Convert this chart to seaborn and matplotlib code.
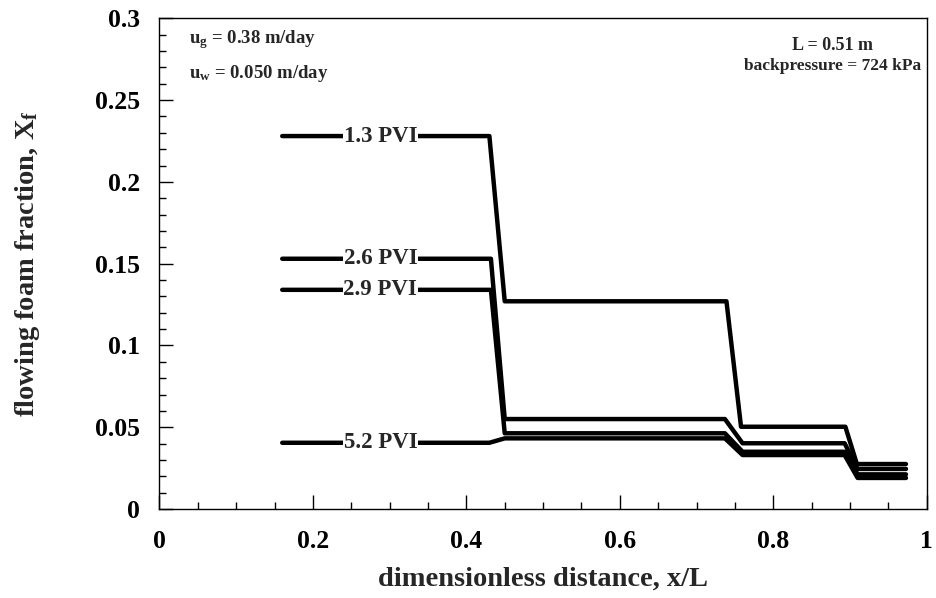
import matplotlib
matplotlib.use("Agg")
import matplotlib.pyplot as plt
from matplotlib.ticker import MultipleLocator
import numpy as np
import pandas as pd
import seaborn as sns

# Flowing foam fraction profiles along the core at several pore volumes injected
pvi_labels = ["1.3 PVI", "2.6 PVI", "2.9 PVI", "5.2 PVI"]

x_13 = [0.160, 0.430, 0.450, 0.739, 0.758, 0.894, 0.909, 0.973]
y_13 = [0.228, 0.228, 0.127, 0.127, 0.0503, 0.0503, 0.0275, 0.0275]

x_26 = [0.160, 0.432, 0.450, 0.737, 0.760, 0.893, 0.910, 0.973]
y_26 = [0.153, 0.153, 0.055, 0.055, 0.0402, 0.0402, 0.0245, 0.0245]

x_29 = [0.160, 0.432, 0.450, 0.737, 0.760, 0.893, 0.910, 0.973]
y_29 = [0.134, 0.134, 0.0463, 0.0463, 0.0350, 0.0350, 0.0212, 0.0212]

x_52 = [0.160, 0.430, 0.450, 0.737, 0.760, 0.893, 0.910, 0.973]
y_52 = [0.0405, 0.0405, 0.0432, 0.0432, 0.0330, 0.0330, 0.0190, 0.0190]

x_ticks = [0, 0.2, 0.4, 0.6, 0.8, 1.0]
x_tick_labels = ["0", "0.2", "0.4", "0.6", "0.8", "1"]
y_ticks = [0, 0.05, 0.1, 0.15, 0.2, 0.25, 0.3]
y_tick_labels = ["0", "0.05", "0.1", "0.15", "0.2", "0.25", "0.3"]

label_x = 0.288

frames = []
for name, xs, ys in zip(pvi_labels, [x_13, x_26, x_29, x_52], [y_13, y_26, y_29, y_52]):
    frames.append(pd.DataFrame({"x": xs, "y": ys, "series": name}))
df = pd.concat(frames, ignore_index=True)

sns.set_theme(style="ticks")
plt.rcParams["font.family"] = ["Liberation Serif", "DejaVu Serif"]
plt.rcParams["font.weight"] = "bold"
plt.rcParams["mathtext.fontset"] = "custom"
plt.rcParams["mathtext.rm"] = "Liberation Serif:bold"
plt.rcParams["mathtext.bf"] = "Liberation Serif:bold"
plt.rcParams["mathtext.it"] = "Liberation Serif:bold"

fig = plt.figure(figsize=(9.37, 5.98), dpi=100)
ax = fig.add_axes([0.1702, 0.1488, 0.8188, 0.8206])

sns.lineplot(data=df, x="x", y="y", hue="series", units="series", estimator=None,
             sort=False, palette=["black"] * 4, legend=False, linewidth=3.2, ax=ax)

for name, ys in zip(pvi_labels, [y_13, y_26, y_29, y_52]):
    ax.text(label_x, ys[0], name, ha="center", va="center", fontsize=16.5, fontweight="bold",
            bbox=dict(facecolor="white", edgecolor="none", pad=0.5), zorder=5)

ax.set_xlim(0, 1)
ax.set_ylim(0, 0.3)
ax.set_xticks(x_ticks)
ax.set_xticklabels(x_tick_labels)
ax.set_yticks(y_ticks)
ax.set_yticklabels(y_tick_labels)
ax.xaxis.set_minor_locator(MultipleLocator(0.05))
ax.yaxis.set_minor_locator(MultipleLocator(0.01))
ax.tick_params(which="both", direction="in", top=False, right=False, colors="black", width=1)
ax.tick_params(which="major", length=10, labelsize=18.5)
ax.tick_params(axis="x", which="major", pad=15)
ax.tick_params(axis="y", which="major", pad=14)
ax.tick_params(which="minor", length=5)
for lab in ax.get_xticklabels() + ax.get_yticklabels():
    lab.set_fontweight("bold")
for sp in ax.spines.values():
    sp.set_visible(True)
    sp.set_color("black")
    sp.set_linewidth(1.0)

ax.set_xlabel("dimensionless distance, x/L", fontsize=20.5, fontweight="bold")
ax.set_ylabel(r"flowing foam fraction, X$_\mathrm{f}$", fontsize=20.5, fontweight="bold")
ax.xaxis.set_label_coords(0.5, -0.118)
ax.yaxis.set_label_coords(-0.153, 0.5)

ax.text(0.038, 0.957, r"u$_\mathrm{g}$ = 0.38 m/day", transform=ax.transAxes,
        fontsize=13.5, fontweight="bold", ha="left", va="center")
ax.text(0.038, 0.888, r"u$_\mathrm{w}$ = 0.050 m/day", transform=ax.transAxes,
        fontsize=13.5, fontweight="bold", ha="left", va="center")
ax.text(0.877, 0.945, "L = 0.51 m", transform=ax.transAxes,
        fontsize=13, fontweight="bold", ha="center", va="center")
ax.text(0.877, 0.902, "backpressure = 724 kPa", transform=ax.transAxes,
        fontsize=12.5, fontweight="bold", ha="center", va="center")

fig.savefig("out.png", dpi=100, facecolor="white")
